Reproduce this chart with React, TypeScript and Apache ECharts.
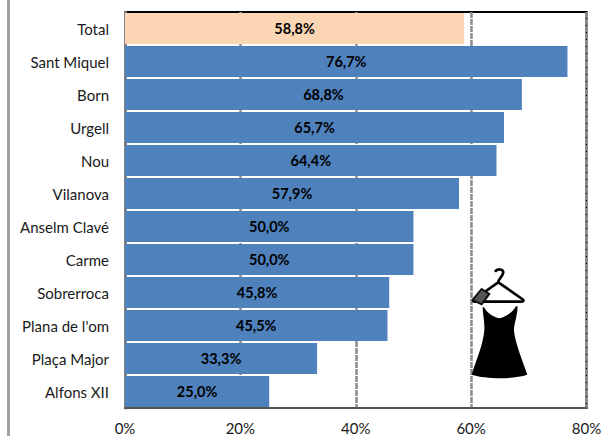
import React, { useEffect, useRef } from "react";
import * as echarts from "echarts";

const categories = ["Total", "Sant Miquel", "Born", "Urgell", "Nou", "Vilanova", "Anselm Clavé", "Carme", "Sobrerroca", "Plana de l'om", "Plaça Major", "Alfons XII"];
const values = [58.8, 76.7, 68.8, 65.7, 64.4, 57.9, 50.0, 50.0, 45.8, 45.5, 33.3, 25.0];
const highlighted = "Total";
const FONT = "Lato";

const dressPath = "M132 175 C140 190 160 205 178 208 C195 205 220 190 228 172 L233 172 C233 200 222 225 222 245 C226 285 250 340 262 378 C220 392 140 392 95 378 C110 330 130 285 133 245 C135 220 128 195 128 175 Z";
const hangerPath = "M165 68 C172 58 190 60 190 70 C190 82 176 88 175 100 L102 152 C98 156 100 158 106 158 L245 158 C252 158 252 154 248 151 L175 100";
const tagPath = "M98 153 L125 120 L148 135 L125 166 Z";
const makePath = (d: string) => (echarts.graphic as any).extendPath(d, {});
echarts.graphic.registerShape("dressFill", makePath(dressPath));
echarts.graphic.registerShape("dressHanger", makePath(hangerPath));
echarts.graphic.registerShape("dressTag", makePath(tagPath));

export default function App() {
  const ref = useRef<HTMLDivElement>(null);
  useEffect(() => {
    document.body.style.margin = "0";
    const chart = echarts.init(ref.current!, undefined, { renderer: "svg" });
    const art = { x: 440, y: 249, scaleX: 1 / 3, scaleY: 1 / 3, z: 20 };
    chart.setOption({
      animation: false,
      backgroundColor: "#ffffff",
      grid: { left: 125, right: 14.5, top: 12, bottom: 28, show: true, borderColor: "#000000", borderWidth: 2, backgroundColor: "transparent", containLabel: false, outerBoundsMode: "none" },
      xAxis: {
        type: "value", min: 0, max: 80, interval: 20,
        axisLine: { show: true, lineStyle: { color: "#555555", width: 2, type: "solid" } },
        axisTick: { show: false },
        splitLine: { show: true, lineStyle: { color: "#8c8c8c", width: 2.5, type: [6, 1] } },
        axisLabel: { formatter: "{value}%", color: "#1a1a1a", fontFamily: FONT, fontSize: 15, margin: 12 },
      },
      yAxis: {
        type: "category", inverse: true, data: categories,
        axisLine: { show: true, lineStyle: { color: "#808080", width: 3 } },
        axisTick: { show: false },
        axisLabel: { color: "#1a1a1a", fontFamily: FONT, fontSize: 15, margin: 16 },
      },
      series: [{
        type: "bar",
        barWidth: 31,
        data: values.map((v, i) => ({
          value: v,
          itemStyle: { color: categories[i] === highlighted ? "#FCD5B5" : "#4F81BD" },
        })),
        label: {
          show: true, position: "inside", color: "#000000", fontFamily: FONT, fontWeight: "bold", fontSize: 14.5,
          formatter: (p: any) => p.value.toFixed(1).replace(".", ",") + "%",
        },
      }],
      graphic: [
        { type: "rect", shape: { x: 7, y: 0, width: 3, height: 436 }, style: { fill: "#a0a0a0" } },
        { type: "dressFill", ...art, style: { fill: "#000000" } },
        { type: "dressHanger", ...art, style: { fill: "none", stroke: "#000000", lineWidth: 8 } },
        { type: "dressTag", ...art, style: { fill: "#555555", stroke: "#111111", lineWidth: 6 } },
      ],
    });
    return () => chart.dispose();
  }, []);
  return <div ref={ref} style={{ width: 601, height: 436 }} />;
}
